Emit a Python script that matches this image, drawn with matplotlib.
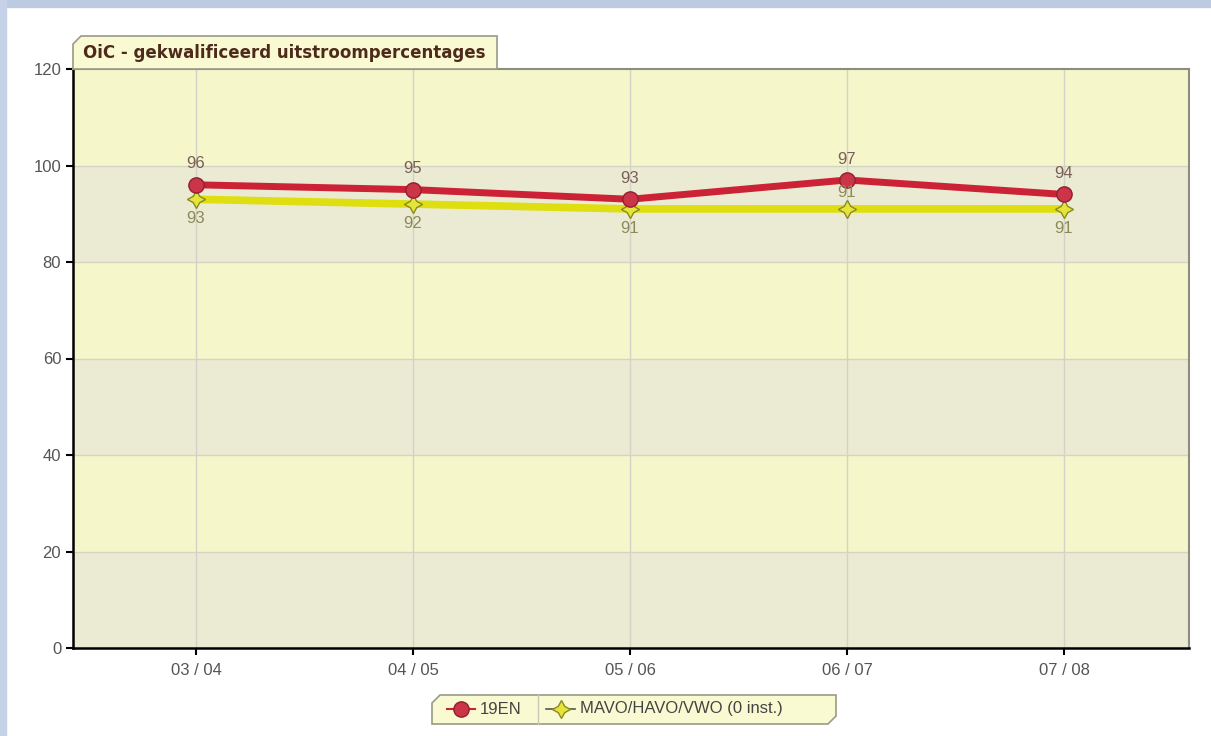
import numpy as np
import matplotlib.pyplot as plt
from matplotlib.patches import Polygon, Rectangle
from matplotlib.lines import Line2D

plt.rcParams['font.family'] = ['Liberation Sans', 'DejaVu Sans']

# data
years = ['03 / 04', '04 / 05', '05 / 06', '06 / 07', '07 / 08']
school = [96, 95, 93, 97, 94]          # 19EN
landelijk = [93, 92, 91, 91, 91]       # MAVO/HAVO/VWO (0 inst.)
title = 'OiC - gekwalificeerd uitstroompercentages'

W, H = 1211, 736
fig = plt.figure(figsize=(W / 100, H / 100), dpi=100)
fig.patch.set_facecolor('white')

def px(x0, y0, x1, y1):
    # pixel box (top-left origin) -> figure fraction rect
    return (x0 / W, 1 - y1 / H, (x1 - x0) / W, (y1 - y0) / H)

# blue page border, top and left
r = px(0, 0, W, 7)
fig.patches.append(Rectangle(r[:2], r[2], r[3], transform=fig.transFigure,
                             color='#bccbe2', zorder=0))
r = px(0, 0, 6, H)
fig.patches.append(Rectangle(r[:2], r[2], r[3], transform=fig.transFigure,
                             color='#c4d1e6', zorder=0))

ax = fig.add_axes(px(73, 69, 1189, 648))
x = np.arange(len(years))

# alternating bands
for i, lo in enumerate(range(0, 120, 20)):
    ax.axhspan(lo, lo + 20, color='#ebebd3' if i % 2 == 0 else '#f6f6cb', zorder=0, lw=0)
for y in range(20, 120, 20):
    ax.axhline(y, color='#d4d4c4', lw=1, zorder=1)
for xi in x:
    ax.axvline(xi, color='#d2d2c8', lw=1, zorder=1)

ax.plot(x, landelijk, color='#dede10', lw=5.5, zorder=3,
        marker=(4, 1, 0), ms=13, mfc='#e4e43a', mec='#8a8a20', mew=1)
ax.plot(x, school, color='#cc2236', lw=5, zorder=4,
        marker='o', ms=11, mfc='#cc3448', mec='#902030', mew=1)

for xi, v in zip(x, school):
    ax.annotate(str(v), (xi, v), xytext=(0, 15), textcoords='offset points',
                ha='center', va='center', fontsize=12, color='#7a5f58', zorder=5)
for i, (xi, v) in enumerate(zip(x, landelijk)):
    dy = 12 if i == 3 else -14
    ax.annotate(str(v), (xi, v), xytext=(0, dy), textcoords='offset points',
                ha='center', va='center', fontsize=12, color='#8a8a5a', zorder=5)

ax.set_xlim(-0.567, 4.576)
ax.set_ylim(0, 120)
ax.set_yticks(range(0, 121, 20))
ax.set_xticks(x)
ax.set_xticklabels(years)
ax.tick_params(labelsize=12, labelcolor='#555555', color='black', length=5, width=1.5)
ax.tick_params(axis='x', pad=6)
for s in ['left', 'bottom']:
    ax.spines[s].set_color('black')
    ax.spines[s].set_linewidth(1.8)
for s in ['top', 'right']:
    ax.spines[s].set_color('#8c8c80')
    ax.spines[s].set_linewidth(1.5)

# title tab
x0, y0, x1, y1 = 73 / W, 1 - 69 / H, 497 / W, 1 - 36 / H
cx, cy = 8 / W, 8 / H
tab = Polygon([(x0, y0), (x0, y1 - cy), (x0 + cx, y1), (x1, y1), (x1, y0)],
              closed=True, transform=fig.transFigure, facecolor='#fafad2',
              edgecolor='#9a9a88', lw=1.2, zorder=5)
fig.patches.append(tab)
fig.text(83 / W, 1 - 53 / H, title, fontsize=12.0, fontweight='bold',
         family='DejaVu Sans', color='#4e2a1c', va='center', ha='left', zorder=8)

# legend box
lx0, ly0, lx1, ly1 = 432 / W, 1 - 724 / H, 836 / W, 1 - 695 / H
leg = Polygon([(lx0, ly0), (lx0, ly1 - cy), (lx0 + cx, ly1), (lx1, ly1),
               (lx1, ly0 + cy), (lx1 - cx, ly0)], closed=True,
              transform=fig.transFigure, facecolor='#fafad2',
              edgecolor='#9a9a88', lw=1.2, zorder=5)
fig.patches.append(leg)
fig.add_artist(Line2D([538 / W, 538 / W], [ly0, ly1], color='#c8c8b8', lw=1,
                      transform=fig.transFigure, zorder=6))
ym = 1 - 709 / H
fig.add_artist(Line2D([447 / W, 475 / W], [ym, ym], color='#cc2236', lw=1.5,
                      transform=fig.transFigure, zorder=6))
fig.add_artist(Line2D([461 / W], [ym], marker='o', ms=11, mfc='#cc3448', mec='#902030',
                      transform=fig.transFigure, zorder=7))
fig.text(480 / W, ym, '19EN', fontsize=12, color='#444444', va='center', zorder=7)
fig.add_artist(Line2D([546 / W, 575 / W], [ym, ym], color='#555555', lw=1.2,
                      transform=fig.transFigure, zorder=6))
fig.add_artist(Line2D([561 / W], [ym], marker=(4, 1, 0), ms=13, mfc='#e4e43a', mec='#8a8a20',
                      transform=fig.transFigure, zorder=7))
fig.text(580 / W, ym, 'MAVO/HAVO/VWO (0 inst.)', fontsize=12, color='#444444',
         va='center', zorder=7)

fig.savefig('out.png', dpi=100)
